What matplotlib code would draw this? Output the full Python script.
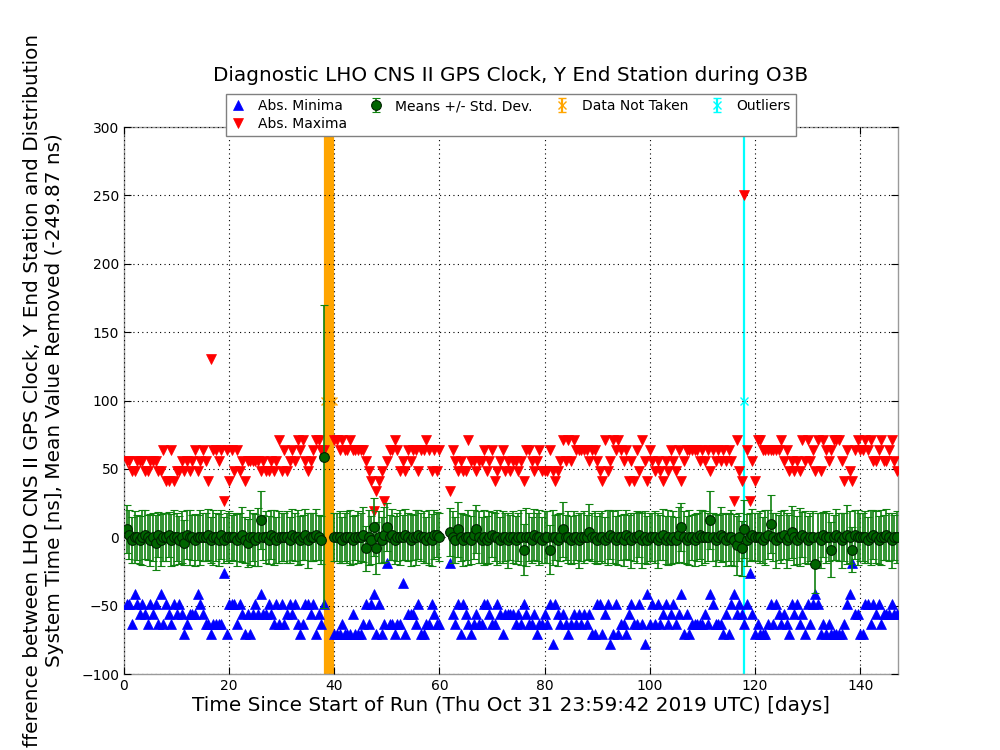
import numpy as np
import matplotlib
matplotlib.use("Agg")
import matplotlib.pyplot as plt

# ---------------- data ----------------
# Samples every half day since the start of the run; one character per sample.
SAMPLE_DAYS = 0.5

# Absolute maxima, level codes (ns)
max_levels = {'b': 18.9, 'a': 26.3, '0': 33.7, '1': 41.2, '2': 48.6, '3': 56.1,
              '4': 63.5, '5': 71.0, 'H': 130.4, 'T': 250.0}
maxima_codes = (
    "33223332233322411412"  # 0.5 - 10
    "232323423431H4434a41"  # 10.5 - 20
    "42423133333232232352"  # 20.5 - 30
    "4234354532345544...5"  # 30.5 - 40
    "54544544444321b012a3"  # 40.5 - 50
    "44542324344244542424"  # 50.5 - 60
    "...04323225332334234"  # 60.5 - 70
    "12342323323144323422"  # 70.5 - 80
    "24212353535444443443"  # 80.5 - 90
    "21523545434131425314"  # 90.5 - 100
    "32321324324134444434"  # 100.5 - 110
    "34243434343a521T4a31"  # 110.5 - 120
    "55444444453423232535"  # 120.5 - 130
    "34252543455531421454"  # 130.5 - 140
    "45453345334532"        # 140.5 - 147
)

# Absolute minima, level codes (ns)
min_levels = {'b': -18.9, 'a': -26.3, '0': -33.7, '1': -41.2, '2': -48.6, '3': -56.1,
              '4': -63.5, '5': -71.0, '6': -78.4}
minima_codes = (
    "22412323423241423423"
    "23543331234454444a52"
    "22423535323133234242"
    "4323245422325342...5"
    "5545553555424215254b"
    "44544053334255442344"
    "...b3425234543442234"
    "42353333434234435443"
    "42623434543434343552"
    "25326525445324424614"
    "24243243243153544444"
    "34124445352132342a35"
    "45554242343452324352"
    "4212545455555421b335"
    "52242324333233"
)

# Means (ns)
mean_levels = {str(d): (d - 5) * 2.0 for d in range(10)}
mean_levels.update({'P': 7.5, 'K': 9.7, 'Q': 12.5, 'R': -9.0, 'S': -19.5, 'X': 59.0})
mean_codes = (
    "86455456545364556455"
    "45365545555645546455"
    "55456435545Q55465455"
    "554655456455654X...5"
    "55455545556154P1546P"
    "56455565455655454665"
    "...75485455468545456"
    "55455455455R55465545"
    "5R554585545545557554"
    "55456545546545564545"
    "55456454546P54554565"
    "55Q54565455425184565"
    "55456K54556457545654"
    "55S54655R5654565R655"
    "55456545565455"
)

# Standard deviations (ns)
std_levels = {str(d): 10.5 + 1.2 * d for d in range(10)}
std_levels.update({'Z': 111.0})
std_codes = (
    "66575686576857665786"
    "67568575866758676567"
    "56768568679957668576"
    "675768657866756Z...6"
    "67567865768586977586"
    "57668576758667587656"
    "...67586758666758675"
    "68576857668796576857"
    "76857685767586758676"
    "67586768576586758766"
    "67857686758676857668"
    "76967586768796897676"
    "67586968576857869576"
    "67968576857686975686"
    "67586768576857"
)

not_taken_days = [38.3, 38.7, 38.95, 39.2, 39.45, 39.7]
outlier_days = [117.95]
flag_value = 100.0

xticks = [0, 20, 40, 60, 80, 100, 120, 140]
yticks = [-100, -50, 0, 50, 100, 150, 200, 250, 300]


def decode(codes, table):
    t, v = [], []
    for i, c in enumerate(codes):
        if c in table:
            t.append(SAMPLE_DAYS * (i + 1))
            v.append(table[c])
    return np.array(t), np.array(v)


t_min, v_min = decode(minima_codes, min_levels)
t_max, v_max = decode(maxima_codes, max_levels)
n = min(len(mean_codes), len(std_codes))
t_mean, v_mean, v_std = [], [], []
for i in range(n):
    if mean_codes[i] in mean_levels and std_codes[i] in std_levels:
        t_mean.append(SAMPLE_DAYS * (i + 1))
        v_mean.append(mean_levels[mean_codes[i]])
        v_std.append(std_levels[std_codes[i]])

# ---------------- figure ----------------
fig = plt.figure(figsize=(10, 7.5), dpi=100)
ax = fig.add_axes([0.124, 0.1013, 0.774, 0.7293])

ax.plot(t_min, v_min, linestyle='none', marker='^', color='#0000ff', ms=6.5,
        mec='#0000ff', mew=0.5, label='Abs. Minima', zorder=3)
ax.plot(t_max, v_max, linestyle='none', marker='v', color='#ff0000', ms=6.5,
        mec='#ff0000', mew=0.5, label='Abs. Maxima', zorder=3)
ax.errorbar(not_taken_days, [flag_value] * len(not_taken_days), yerr=10000,
            fmt='x', color='#ffa500', ecolor='#ffa500', elinewidth=1.6,
            capsize=3, ms=6, label='Data Not Taken', zorder=2)
ax.errorbar(outlier_days, [flag_value] * len(outlier_days), yerr=10000,
            fmt='x', color='#00ffff', ecolor='#00ffff', elinewidth=1.6,
            capsize=3, ms=6, label='Outliers', zorder=2)
ax.errorbar(t_mean, v_mean, yerr=v_std, fmt='o', mfc='#006400', mec='#002200',
            mew=0.8, ms=7, ecolor='#0f820f', elinewidth=1.2, capsize=3,
            capthick=1.0, label='Means +/- Std. Dev.', zorder=4)

ax.set_xlim(0, 147.2)
ax.set_ylim(-100, 300)
ax.set_xticks(xticks)
ax.set_yticks(yticks)
ax.tick_params(direction='in', length=5, labelsize=10, top=True, right=True,
               color='black')
for s in ax.spines.values():
    s.set_color('#9a9a9a')
    s.set_linewidth(1.0)
ax.grid(True, color='black', linestyle=(0, (1, 3)), linewidth=0.8)
ax.set_axisbelow(False)

ax.set_title('Diagnostic LHO CNS II GPS Clock, Y End Station during O3B',
             fontsize=14.4, pad=33)
ax.set_xlabel('Time Since Start of Run (Thu Oct 31 23:59:42 2019 UTC) [days]',
              fontsize=14.4, labelpad=2)
ax.set_ylabel('Difference between LHO CNS II GPS Clock, Y End Station and Distribution\n'
              'System Time [ns], Mean Value Removed (-249.87 ns)', fontsize=14.4,
              labelpad=12)

handles, labels = ax.get_legend_handles_labels()
order = ['Abs. Minima', 'Abs. Maxima', 'Means +/- Std. Dev.', 'Data Not Taken', 'Outliers']
hd = dict(zip(labels, handles))
leg = ax.legend([hd[k] for k in order], order, loc='upper center',
                bbox_to_anchor=(0.5, 1.06), borderaxespad=0, ncol=4,
                fontsize=10, fancybox=False, framealpha=1, edgecolor='#808080',
                handlelength=1.0, handletextpad=0.9, columnspacing=1.6,
                borderpad=0.35, labelspacing=0.3, numpoints=1)
leg.get_frame().set_linewidth(1.0)
leg.set_zorder(10)

fig.savefig('out.png', dpi=100)
